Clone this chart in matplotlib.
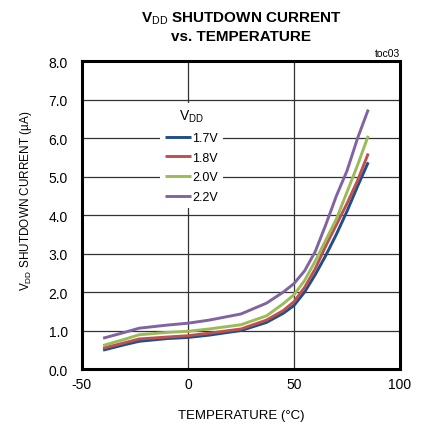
import matplotlib
matplotlib.use("Agg")
import matplotlib.pyplot as plt

plt.rcParams['font.family'] = ['Liberation Sans', 'DejaVu Sans']
plt.rcParams['mathtext.fontset'] = 'custom'
plt.rcParams['mathtext.rm'] = 'Liberation Sans'
plt.rcParams['mathtext.bf'] = 'Liberation Sans:bold'

temperature = [-40, -30, -23, -10, 0, 10, 25, 37, 45, 50, 55, 60, 65, 70, 75, 80, 85]
i_17 = [0.49, 0.63, 0.72, 0.79, 0.82, 0.88, 1.00, 1.21, 1.45, 1.65, 2.00, 2.45, 2.95, 3.50, 4.10, 4.75, 5.37]
i_18 = [0.54, 0.68, 0.78, 0.83, 0.865, 0.93, 1.04, 1.27, 1.52, 1.75, 2.12, 2.60, 3.20, 3.75, 4.30, 4.90, 5.60]
i_20 = [0.61, 0.77, 0.89, 0.95, 0.98, 1.04, 1.15, 1.38, 1.70, 1.93, 2.30, 2.80, 3.35, 3.90, 4.60, 5.30, 6.06]
i_22 = [0.80, 0.95, 1.06, 1.14, 1.19, 1.27, 1.43, 1.71, 2.00, 2.22, 2.55, 3.05, 3.75, 4.50, 5.15, 6.00, 6.74]
series_labels = ['1.7V', '1.8V', '2.0V', '2.2V']
colors = ['#1f4e8c', '#c0504d', '#9bbb59', '#8064a2']

fig = plt.figure(figsize=(4.22, 4.31), dpi=100)
ax = fig.add_axes([0.194, 0.1415, 0.754, 0.7145])

for ys, lab, c in zip([i_17, i_18, i_20, i_22], series_labels, colors):
    ax.plot(temperature, ys, color=c, lw=2.1, label=lab, solid_capstyle='butt',
            solid_joinstyle='round')

ax.set_xlim(-50, 100)
ax.set_ylim(0, 8)
ax.set_xticks([-50, 0, 50, 100])
ax.set_xticklabels(['-50', '0', '50', '100'])
ax.set_yticks([i for i in range(9)])
ax.set_yticklabels([f'{v:.1f}' for v in range(9)])
ax.tick_params(axis='y', length=0, labelsize=10, pad=10)
ax.tick_params(axis='x', length=0, labelsize=10, pad=6)
ax.grid(True, color='#333333', lw=0.9)
ax.set_axisbelow(True)
for s in ax.spines.values():
    s.set_linewidth(2.2)
    s.set_color('black')

ax.set_xlabel('TEMPERATURE (°C)', fontsize=9.5, labelpad=13)
ax.set_ylabel(r'V$_{\rm DD}$ SHUTDOWN CURRENT (µA)', fontsize=8.5)
ax.yaxis.set_label_coords(-0.15, 0.55)

fig.text(0.571, 0.957, r'V$_{\rm DD}$ SHUTDOWN CURRENT', ha='center', va='center',
         fontsize=11, fontweight='bold')
fig.text(0.571, 0.915, 'vs. TEMPERATURE', ha='center', va='center',
         fontsize=11, fontweight='bold')
fig.text(0.948, 0.864, 'toc03', ha='right', va='bottom', fontsize=7.5)

leg = ax.legend(title=r'V$_{\rm DD}$', loc='upper left', bbox_to_anchor=(0.225, 0.885),
                frameon=True, fontsize=9, title_fontsize=10, handlelength=2.1,
                handletextpad=0.1, labelspacing=0.62, borderpad=0.4, fancybox=False)
leg.get_frame().set_edgecolor('none')
leg.get_frame().set_facecolor('white')
leg.get_frame().set_alpha(1)

fig.savefig('out.png', dpi=100)
